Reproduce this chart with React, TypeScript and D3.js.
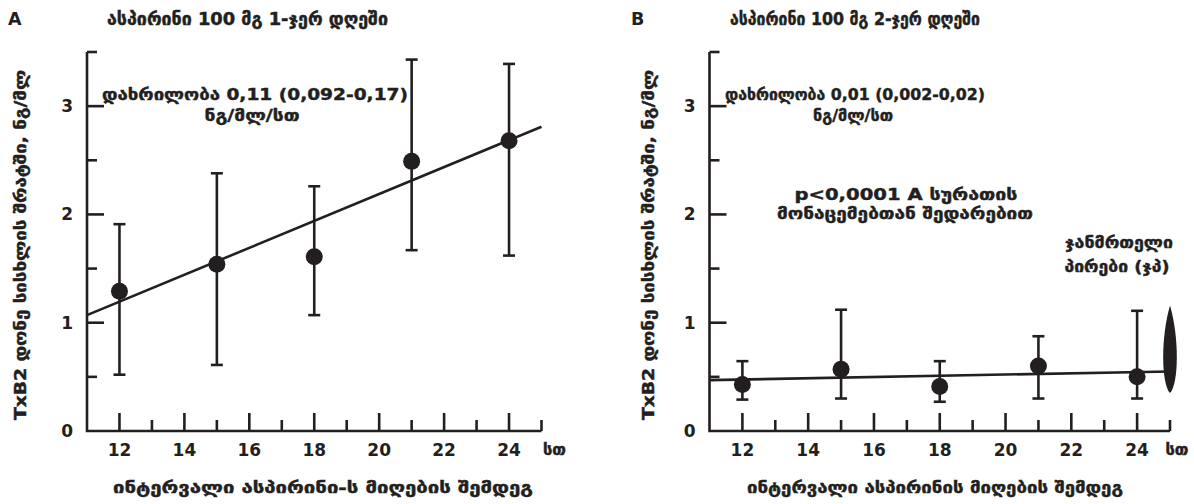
import React from "react";
import * as d3 from "d3";

// ---------- data ----------
const hours = [12, 15, 18, 21, 24];
const meanA = [1.29, 1.54, 1.61, 2.49, 2.68];
const lowA = [0.52, 0.61, 1.07, 1.67, 1.62];
const highA = [1.91, 2.38, 2.26, 3.43, 3.39];
const fitA = [
  { x: 11, y: 1.07 },
  { x: 25, y: 2.81 },
];

const meanB = [0.43, 0.57, 0.41, 0.6, 0.5];
const lowB = [0.29, 0.3, 0.27, 0.3, 0.3];
const highB = [0.645, 1.12, 0.645, 0.875, 1.11];
const fitB = [
  { x: 11, y: 0.47 },
  { x: 25, y: 0.55 },
];
const healthy = { x: 25, low: 0.35, high: 1.16 };

const xMajorTicks = [12, 14, 16, 18, 20, 22, 24];
const xMinorTicks = [13, 15, 17, 19, 21, 23, 25];
const yMajorTicks = [0, 1, 2, 3];
const yMinorTicks = [0.5, 1.5, 2.5, 3.5];
const xUnit = "სთ";
const yTitle = "TxB2 დონე სისხლის შრატში, ნგ/მლ";

const panelLetters = ["A", "B"];
const panelTitles = ["ასპირინი 100 მგ 1-ჯერ დღეში", "ასპირინი 100 მგ 2-ჯერ დღეში"];
const slopeTexts = ["დახრილობა 0,11 (0,092-0,17)", "დახრილობა 0,01 (0,002-0,02)"];
const slopeUnit = "ნგ/მლ/სთ";
const xTitles = ["ინტერვალი ასპირინი-ს მიღების შემდეგ", "ინტერვალი ასპირინის მიღების შემდეგ"];
const pText = ["p<0,0001 A სურათის", "მონაცემებთან შედარებით"];
const healthyText = ["ჯანმრთელი", "პირები (ჯპ)"];

// ---------- style ----------
const INK = "#231f20";
const FONT = "'DejaVu Sans', sans-serif";
const SW = 2.6;

const yScale = d3.scaleLinear().domain([0, 3.5]).range([431, 52]);

type TProps = {
  x: number;
  y: number;
  size: number;
  len?: number;
  anchor?: string;
  transform?: string;
  heavy?: boolean;
  children: React.ReactNode;
};

function T({ x, y, size, len, anchor = "middle", transform, heavy = true, children }: TProps) {
  return (
    <text
      x={x}
      y={y}
      transform={transform}
      textAnchor={anchor}
      fontFamily={FONT}
      fontWeight="bold"
      fontSize={size}
      fill={INK}
      stroke={heavy ? INK : undefined}
      strokeWidth={heavy ? 0.45 : undefined}
      textLength={len}
      lengthAdjust={len ? "spacingAndGlyphs" : undefined}
    >
      {children}
    </text>
  );
}

type PanelProps = {
  left: number;
  right: number;
  letterX: number;
  titleX: number;
  titleLen: number;
  yTitleX: number;
  slopeX: number;
  slopeLen: number;
  unitX: number;
  unitLen: number;
  unitDx: number;
  xTitleX: number;
  xTitleLen: number;
  index: number;
  mean: number[];
  low: number[];
  high: number[];
  fit: { x: number; y: number }[];
};

function Panel(p: PanelProps) {
  const x = d3.scaleLinear().domain([11, 25]).range([p.left, p.right]);
  const y = yScale;
  const line = d3
    .line<{ x: number; y: number }>()
    .x((d) => x(d.x))
    .y((d) => y(d.y));
  const x0 = x(11);
  const y0 = y(0);
  return (
    <g>
      <T x={p.letterX} y={25} size={17.5} anchor="start" heavy={false}>
        {panelLetters[p.index]}
      </T>
      <T x={p.titleX} y={25} size={17} len={p.titleLen}>
        {panelTitles[p.index]}
      </T>
      {/* axes */}
      <path d={`M${x0},${y(3.5)}V${y0}H${x(25)}`} fill="none" stroke={INK} strokeWidth={SW} />
      {yMajorTicks.filter((t) => t > 0).map((t) => (
        <line key={"ym" + t} x1={x0} x2={x0 + 17} y1={y(t)} y2={y(t)} stroke={INK} strokeWidth={SW} />
      ))}
      {yMinorTicks.map((t) => (
        <line key={"yn" + t} x1={x0} x2={x0 + 10} y1={y(t)} y2={y(t)} stroke={INK} strokeWidth={SW} />
      ))}
      {yMajorTicks.map((t) => (
        <T key={"yl" + t} x={x0 - 14} y={y(t) + 6} size={17} anchor="end" heavy={false}>
          {t}
        </T>
      ))}
      {xMajorTicks.map((t) => (
        <line key={"xm" + t} x1={x(t)} x2={x(t)} y1={y0} y2={y0 - 18} stroke={INK} strokeWidth={SW} />
      ))}
      {xMinorTicks.map((t) => (
        <line key={"xn" + t} x1={x(t)} x2={x(t)} y1={y0} y2={y0 - 11} stroke={INK} strokeWidth={SW} />
      ))}
      {xMajorTicks.map((t) => (
        <T key={"xl" + t} x={x(t)} y={456} size={17} heavy={false}>
          {t}
        </T>
      ))}
      <T x={x(25) + p.unitDx} y={455} size={16} len={23}>
        {xUnit}
      </T>
      <T x={p.xTitleX} y={493} size={16.5} len={p.xTitleLen}>
        {xTitles[p.index]}
      </T>
      <T x={0} y={0} size={16} len={350} transform={`translate(${p.yTitleX},${245}) rotate(-90)`}>
        {yTitle}
      </T>
      {/* regression */}
      <path d={line(p.fit) || ""} fill="none" stroke={INK} strokeWidth={SW} />
      {/* error bars */}
      {hours.map((h, i) => (
        <g key={"e" + h}>
          <line x1={x(h)} x2={x(h)} y1={y(p.low[i])} y2={y(p.high[i])} stroke={INK} strokeWidth={SW} />
          <line x1={x(h) - 6} x2={x(h) + 6} y1={y(p.low[i])} y2={y(p.low[i])} stroke={INK} strokeWidth={SW} />
          <line x1={x(h) - 6} x2={x(h) + 6} y1={y(p.high[i])} y2={y(p.high[i])} stroke={INK} strokeWidth={SW} />
          <circle cx={x(h)} cy={y(p.mean[i])} r={8.5} fill={INK} />
        </g>
      ))}
      <T x={p.slopeX} y={100} size={16.5} len={p.slopeLen}>
        {slopeTexts[p.index]}
      </T>
      <T x={p.unitX} y={121} size={16.5} len={p.unitLen}>
        {slopeUnit}
      </T>
    </g>
  );
}

export default function App() {
  const xB = d3.scaleLinear().domain([11, 25]).range([709.5, 1170]);
  const cx = xB(healthy.x);
  const top = yScale(healthy.high);
  const bot = yScale(healthy.low);
  const hw = 7;
  const lens = `M${cx},${top} C${cx + hw * 1.3},${top + (bot - top) * 0.35} ${cx + hw * 1.3},${bot - 10} ${cx},${bot} C${cx - hw * 1.3},${bot - 10} ${cx - hw * 1.3},${top + (bot - top) * 0.35} ${cx},${top} Z`;
  return (
    <svg
      width={1194}
      height={504}
      style={{ position: "absolute", left: 0, top: 0, background: "#fff" }}
    >
      <rect width={1194} height={504} fill="#fff" />
      <Panel
        left={87}
        right={541.5}
        letterX={8}
        titleX={247.5}
        titleLen={281}
        yTitleX={26}
        slopeX={255}
        slopeLen={306}
        unitX={252}
        unitLen={95}
        unitDx={13}
        xTitleX={323}
        xTitleLen={420}
        index={0}
        mean={meanA}
        low={lowA}
        high={highA}
        fit={fitA}
      />
      <Panel
        left={709.5}
        right={1170}
        letterX={631}
        titleX={855}
        titleLen={250}
        yTitleX={654}
        slopeX={855}
        slopeLen={260}
        unitX={853}
        unitLen={80}
        unitDx={7}
        xTitleX={935}
        xTitleLen={376}
        index={1}
        mean={meanB}
        low={lowB}
        high={highB}
        fit={fitB}
      />
      <path d={lens} fill={INK} />
      <T x={906} y={200} size={16.5} len={223}>
        {pText[0]}
      </T>
      <T x={905} y={219} size={16.5} len={256}>
        {pText[1]}
      </T>
      <T x={1119} y={248} size={16.5} len={108}>
        {healthyText[0]}
      </T>
      <T x={1117} y={272} size={16.5} len={105}>
        {healthyText[1]}
      </T>
    </svg>
  );
}
